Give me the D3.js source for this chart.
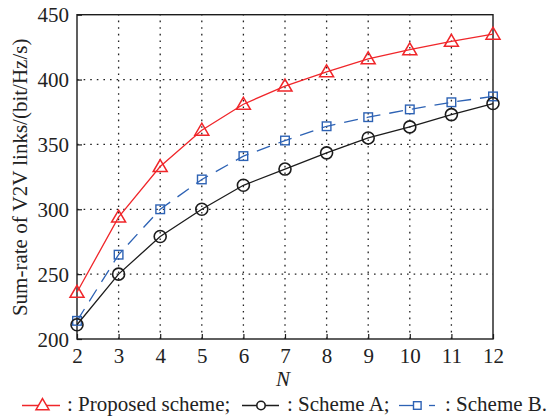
<!DOCTYPE html>
<html>
<head>
<meta charset="utf-8">
<script src="https://cdn.jsdelivr.net/npm/d3@7"></script>
<style>
  html, body { margin: 0; padding: 0; background: #fff; }
  svg { display: block; font-family: "Liberation Serif", "Times New Roman", serif; }
</style>
</head>
<body>
<svg id="chart" width="548" height="417"></svg>
<script>
// Number of V2V pairs
const nValues = [2, 3, 4, 5, 6, 7, 8, 9, 10, 11, 12];
// Sum-rate of V2V links (bit/Hz/s)
const proposedScheme = [236, 294, 333, 361, 381, 395, 406, 416, 423, 429.5, 435];
const schemeA = [211, 250, 279, 300, 318.5, 331, 343.5, 355, 363.5, 373, 381.5];
const schemeB = [214, 265, 300, 323, 341, 353, 364, 371, 377, 382.5, 387];
const yTicks = [200, 250, 300, 350, 400, 450];

const svg = d3.select("#chart");
const margin = { left: 77, right: 55, top: 14.7, bottom: 78 };
const W = 548, H = 417;
const x = d3.scaleLinear().domain([2, 12]).range([margin.left, W - margin.right]);
const y = d3.scaleLinear().domain([200, 450]).range([H - margin.bottom, margin.top]);

const RED = "#f0262a", BLACK = "#1c1c1c", BLUE = "#2d62b4";
const FONT = "21px";

// Dotted grid
const grid = svg.append("g");
grid.selectAll("line.gx").data(nValues.slice(1, -1)).join("line")
  .attr("x1", d => x(d)).attr("x2", d => x(d))
  .attr("y1", y(200)).attr("y2", y(450))
  .attr("stroke", "#222").attr("stroke-width", 1.3).attr("stroke-dasharray", "1.6,5");
grid.selectAll("line.gy").data(yTicks.slice(1, -1)).join("line")
  .attr("x1", x(2)).attr("x2", x(12))
  .attr("y1", d => y(d)).attr("y2", d => y(d))
  .attr("stroke", "#222").attr("stroke-width", 1.3).attr("stroke-dasharray", "1.6,5");

// Axes
const xAxis = d3.axisBottom(x).tickValues(nValues).tickFormat(d3.format("d")).tickSize(-5).tickPadding(9);
const yAxis = d3.axisLeft(y).tickValues(yTicks).tickSize(-5).tickPadding(8);
const gx = svg.append("g").attr("transform", `translate(0,${y(200)})`).call(xAxis);
const gy = svg.append("g").attr("transform", `translate(${x(2)},0)`).call(yAxis);
[gx, gy].forEach(g => {
  g.select(".domain").remove();
  g.selectAll(".tick line").attr("stroke", BLACK).attr("stroke-width", 1.2);
  g.selectAll("text").attr("fill", "#222").style("font-size", FONT)
    .style("font-family", "'Liberation Serif', serif");
});
gx.selectAll("text").attr("dy", "0.7em");
gy.selectAll("text").attr("dy", "0.34em");

// Plot box
svg.append("rect")
  .attr("x", x(2)).attr("y", y(450))
  .attr("width", x(12) - x(2)).attr("height", y(200) - y(450))
  .attr("fill", "none").attr("stroke", BLACK).attr("stroke-width", 1.4);

const line = d3.line().x((d, i) => x(nValues[i])).y(d => y(d));

function triPath(cx, cy, s) {
  const h = s * 0.8;
  return `M${cx},${cy - h * 0.62}L${cx + s / 2},${cy + h * 0.45}L${cx - s / 2},${cy + h * 0.45}Z`;
}

// Scheme B: blue dashed with squares
svg.append("path").datum(schemeB).attr("d", line)
  .attr("fill", "none").attr("stroke", BLUE).attr("stroke-width", 1.3)
  .attr("stroke-dasharray", "14,9");
svg.append("g").selectAll("rect").data(schemeB).join("rect")
  .attr("x", (d, i) => x(nValues[i]) - 4.3).attr("y", d => y(d) - 4.3)
  .attr("width", 8.6).attr("height", 8.6)
  .attr("fill", "none").attr("stroke", BLUE).attr("stroke-width", 1.4);

// Scheme A: black solid with circles
svg.append("path").datum(schemeA).attr("d", line)
  .attr("fill", "none").attr("stroke", BLACK).attr("stroke-width", 1.3);
svg.append("g").selectAll("circle").data(schemeA).join("circle")
  .attr("cx", (d, i) => x(nValues[i])).attr("cy", d => y(d)).attr("r", 6)
  .attr("fill", "none").attr("stroke", BLACK).attr("stroke-width", 1.6);

// Proposed scheme: red solid with triangles
svg.append("path").datum(proposedScheme).attr("d", line)
  .attr("fill", "none").attr("stroke", RED).attr("stroke-width", 1.3);
svg.append("g").selectAll("path").data(proposedScheme).join("path")
  .attr("d", (d, i) => triPath(x(nValues[i]), y(d), 14))
  .attr("fill", "none").attr("stroke", RED).attr("stroke-width", 1.5);

// Axis titles
svg.append("text")
  .attr("transform", `translate(26.5,${(y(200) + y(450)) / 2 + 0.5}) rotate(-90)`)
  .attr("text-anchor", "middle").attr("fill", "#222").style("font-size", FONT)
  .text("Sum-rate of V2V links/(bit/Hz/s)");
svg.append("text")
  .attr("x", (x(2) + x(12)) / 2 - 2).attr("y", 386)
  .attr("text-anchor", "middle").attr("fill", "#222")
  .style("font-size", FONT).style("font-style", "italic")
  .text("N");

// Legend row
const legend = svg.append("g");
const ly = 405.5, lty = 410.5;
// red
legend.append("line").attr("x1", 22).attr("x2", 60).attr("y1", ly).attr("y2", ly)
  .attr("stroke", RED).attr("stroke-width", 1.3);
legend.append("path").attr("d", triPath(42.5, ly - 0.5, 13))
  .attr("fill", "#fff").attr("stroke", RED).attr("stroke-width", 1.5);
legend.append("text").attr("x", 67).attr("y", lty).attr("fill", "#222")
  .style("font-size", FONT).text(": Proposed scheme;");
// black
legend.append("line").attr("x1", 242).attr("x2", 279).attr("y1", ly).attr("y2", ly)
  .attr("stroke", BLACK).attr("stroke-width", 1.3);
legend.append("circle").attr("cx", 261).attr("cy", ly).attr("r", 4.2)
  .attr("fill", "#fff").attr("stroke", BLACK).attr("stroke-width", 1.6);
legend.append("text").attr("x", 287).attr("y", lty).attr("fill", "#222")
  .style("font-size", FONT).text(": Scheme A;");
// blue
legend.append("line").attr("x1", 399).attr("x2", 413).attr("y1", ly).attr("y2", ly)
  .attr("stroke", BLUE).attr("stroke-width", 1.3);
legend.append("line").attr("x1", 429).attr("x2", 435).attr("y1", ly).attr("y2", ly)
  .attr("stroke", BLUE).attr("stroke-width", 1.3);
legend.append("rect").attr("x", 413.5).attr("y", ly - 3.8).attr("width", 7.6).attr("height", 7.6)
  .attr("fill", "#fff").attr("stroke", BLUE).attr("stroke-width", 1.4);
legend.append("text").attr("x", 445).attr("y", lty).attr("fill", "#222")
  .style("font-size", FONT).text(": Scheme B.");
</script>
</body>
</html>
